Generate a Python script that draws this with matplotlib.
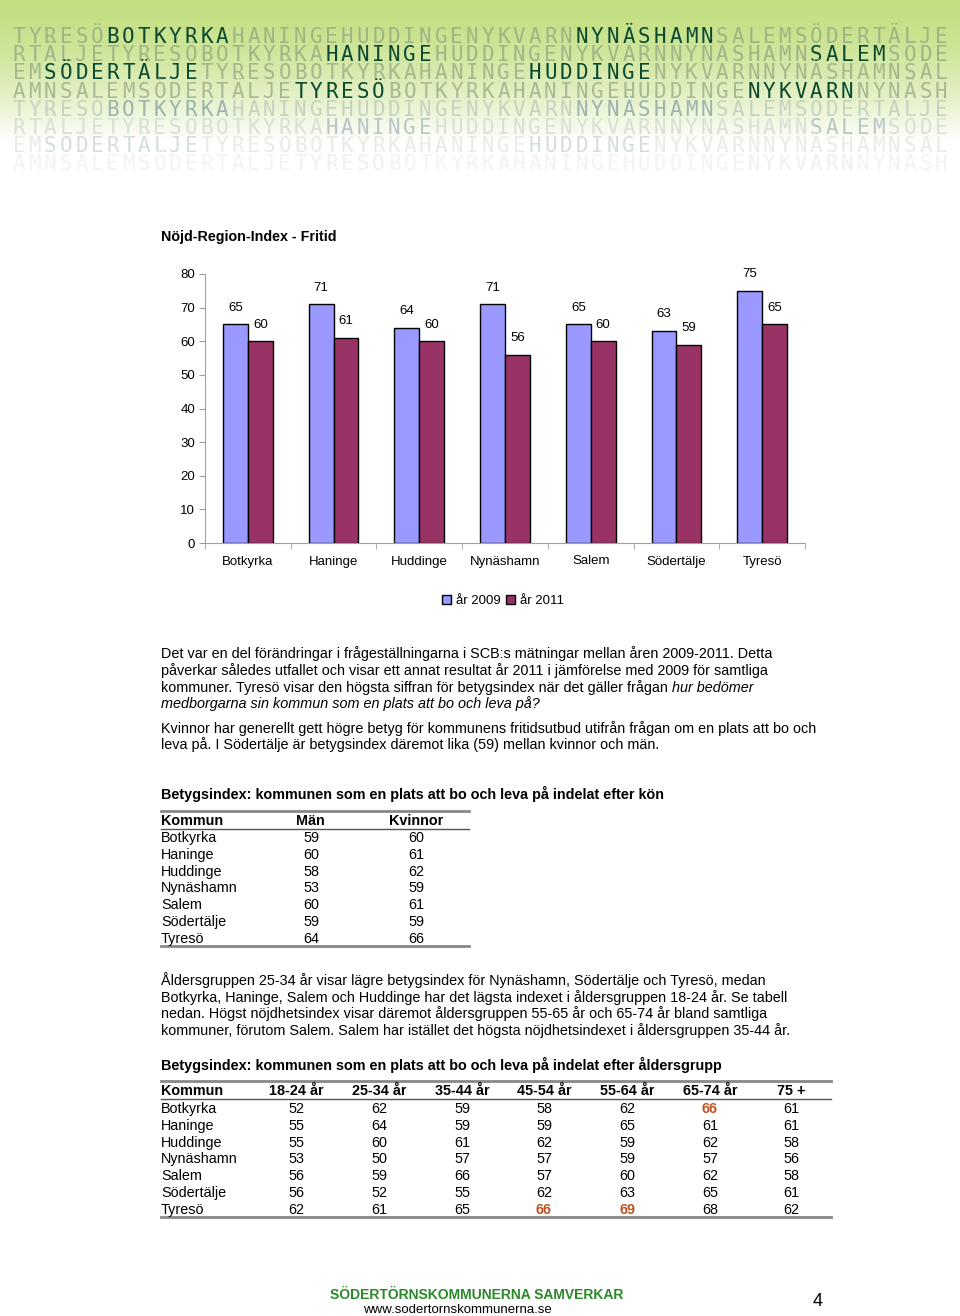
import numpy as np
import matplotlib
matplotlib.use("Agg")
import matplotlib.pyplot as plt
from matplotlib.lines import Line2D
from matplotlib.colors import to_rgb

plt.rcParams['font.family'] = ['Liberation Sans', 'DejaVu Sans']

# --- data ---
kommuner = ['Botkyrka', 'Haninge', 'Huddinge', 'Nynäshamn', 'Salem', 'Södertälje', 'Tyresö']
ar2009 = [65, 71, 64, 71, 65, 63, 75]
ar2011 = [60, 61, 60, 56, 60, 59, 65]

man = [59, 60, 58, 53, 60, 59, 64]
kvinnor = [60, 61, 62, 59, 61, 59, 66]

aldersgrupper = ['18-24 år', '25-34 år', '35-44 år', '45-54 år', '55-64 år', '65-74 år', '75 +']
alder_varden = [
    [52, 62, 59, 58, 62, 66, 61],
    [55, 64, 59, 59, 65, 61, 61],
    [55, 60, 61, 62, 59, 62, 58],
    [53, 50, 57, 57, 59, 57, 56],
    [56, 59, 66, 57, 60, 62, 58],
    [56, 52, 55, 62, 63, 65, 61],
    [62, 61, 65, 66, 69, 68, 62],
]
markerade = [(0, 5), (6, 3), (6, 4)]  # (rad, kolumn) i orange

W, H = 960, 1316
FS = 10.35  # body text size
fig = plt.figure(figsize=(W / 100, H / 100), dpi=100)


def X(px):
    return px / W


def Y(py):
    return 1 - py / H


# --- header with green gradient and name letters ---
hax = fig.add_axes([0, Y(182), 1, 182 / H])
hax.set_xlim(0, W)
hax.set_ylim(182, 0)
hax.axis('off')
top = np.array(to_rgb('#c2df80'))
t = np.linspace(0, 1, 182)
fade = np.clip(t / 0.78, 0, 1) ** 1.5
grad = top[None, :] * (1 - fade[:, None]) + np.ones(3)[None, :] * fade[:, None]
hax.imshow(grad[:, None, :], aspect='auto', extent=(0, W, 182, 0))

rader = [
    "TYRESÖBOTKYRKAHANINGEHUDDINGENYKVARNNYNÄSHAMNSALEMSÖDERTÄLJE",
    "RTÄLJETYRESÖBOTKYRKAHANINGEHUDDINGENYKVARNNYNÄSHAMNSALEMSÖDE",
    "EMSÖDERTÄLJETYRESÖBOTKYRKAHANINGEHUDDINGENYKVARNNYNÄSHAMNSAL",
    "AMNSALEMSÖDERTÄLJETYRESÖBOTKYRKAHANINGEHUDDINGENYKVARNNYNÄSH",
]
hl = [[(6, 8), (36, 9)], [(20, 7), (51, 5)], [(2, 10), (33, 8)], [(18, 6), (47, 7)]]
base_col = ['#9fb485', '#a0b587', '#a4b88c', '#a8ba92',
            '#c8d2c0', '#d9e0d4', '#e8ece6', '#f3f4f2']
hl_col = ['#0b4a30', '#0b4a30', '#0b4a30', '#0b4a30',
          '#9db3b0', '#b8c6c8', '#d5dde0', '#eef0f1']
for r in range(8):
    txt = rader[r % 4]
    yy = 37 + r * 18.2
    marks = set()
    for s, n in hl[r % 4]:
        marks.update(range(s, s + n))
    for i, ch in enumerate(txt):
        c = hl_col[r] if i in marks else base_col[r]
        hax.text(12 + i * 15.63 + 7, yy, ch, ha='center', va='center',
                 family='DejaVu Sans Mono', fontsize=15, color=c)

# --- bar chart ---
fig.text(X(161), Y(241), 'Nöjd-Region-Index - Fritid', fontsize=10.3,
         fontweight='bold', va='baseline')

ax = fig.add_axes([X(205), Y(543), X(805) - X(205), (543 - 274) / H])
x = np.arange(len(kommuner))
w = 0.29
b1 = ax.bar(x - w / 2, ar2009, w, color='#9999ff', edgecolor='black', lw=1, label='år 2009')
b2 = ax.bar(x + w / 2, ar2011, w, color='#993366', edgecolor='black', lw=1, label='år 2011')
for xs, vals in ((x - w / 2, ar2009), (x + w / 2, ar2011)):
    for xi, v in zip(xs, vals):
        ax.annotate(str(v), (xi, v), xytext=(0, 12), textcoords='offset points',
                    ha='center', va='center', fontsize=9.5)
ax.set_xlim(-0.5, len(kommuner) - 0.5)
ax.set_ylim(0, 80)
ax.set_yticks(range(0, 81, 10))
ax.set_xticks(x)
ax.set_xticklabels(kommuner)
ax.set_xticks(np.arange(-0.5, len(kommuner)), minor=True)
ax.tick_params(axis='x', which='major', length=0, pad=9, labelsize=9.5)
ax.tick_params(axis='x', which='minor', length=4, color='#a0a0a0')
ax.tick_params(axis='y', length=4, color='#a0a0a0', pad=3, labelsize=9.5)
for s in ('top', 'right'):
    ax.spines[s].set_visible(False)
for s in ('left', 'bottom'):
    ax.spines[s].set_color('#a0a0a0')
ax.set_facecolor('none')

fig.legend(handles=[b1, b2], loc='center', bbox_to_anchor=(X(503), Y(601)),
           ncol=2, frameon=False, fontsize=9.5, handlelength=0.7, handleheight=0.7,
           columnspacing=0.4, handletextpad=0.35)


# --- text blocks ---
def line(px, py, s, **kw):
    kw.setdefault('fontsize', FS)
    return fig.text(X(px), Y(py), s, va='baseline', **kw)


line(161, 658, 'Det var en del förändringar i frågeställningarna i SCB:s mätningar mellan åren 2009-2011. Detta')
line(161, 675, 'påverkar således utfallet och visar ett annat resultat år 2011 i jämförelse med 2009 för samtliga')
t1 = line(161, 692, 'kommuner. Tyresö visar den högsta siffran för betygsindex när det gäller frågan ')
fig.canvas.draw()
bb = t1.get_window_extent()
fig.text(bb.x1 / W, Y(692), 'hur bedömer', va='baseline', fontsize=FS, style='italic')
line(161, 708, 'medborgarna sin kommun som en plats att bo och leva på?', style='italic')
line(161, 733, 'Kvinnor har generellt gett högre betyg för kommunens fritidsutbud utifrån frågan om en plats att bo och')
line(161, 749, 'leva på. I Södertälje är betygsindex däremot lika (59) mellan kvinnor och män.')


def hline(x0, x1, py, lw, c):
    fig.add_artist(Line2D([X(x0), X(x1)], [Y(py), Y(py)], transform=fig.transFigure,
                          color=c, lw=lw))


# --- table 1: kön ---
line(161, 799, 'Betygsindex: kommunen som en plats att bo och leva på indelat efter kön',
     fontweight='bold')
hline(161, 469, 811, 2, '#888888')
line(161, 825, 'Kommun', fontweight='bold')
fig.text(X(310), Y(825), 'Män', ha='center', va='baseline', fontsize=FS, fontweight='bold')
fig.text(X(416), Y(825), 'Kvinnor', ha='center', va='baseline', fontsize=FS, fontweight='bold')
hline(161, 469, 829, 1, '#555555')
for i, k in enumerate(kommuner):
    py = 842 + i * 16.8
    line(161, py, k)
    fig.text(X(311), Y(py), str(man[i]), ha='center', va='baseline', fontsize=FS)
    fig.text(X(416), Y(py), str(kvinnor[i]), ha='center', va='baseline', fontsize=FS)
hline(161, 469, 946, 2, '#888888')

line(161, 985, 'Åldersgruppen 25-34 år visar lägre betygsindex för Nynäshamn, Södertälje och Tyresö, medan')
line(161, 1002, 'Botkyrka, Haninge, Salem och Huddinge har det lägsta indexet i åldersgruppen 18-24 år. Se tabell')
line(161, 1018, 'nedan. Högst nöjdhetsindex visar däremot åldersgruppen 55-65 år och 65-74 år bland samtliga')
line(161, 1035, 'kommuner, förutom Salem. Salem har istället det högsta nöjdhetsindexet i åldersgruppen 35-44 år.')

# --- table 2: åldersgrupp ---
line(161, 1070, 'Betygsindex: kommunen som en plats att bo och leva på indelat efter åldersgrupp',
     fontweight='bold')
hline(161, 831, 1081, 2, '#888888')
colx = [296, 379, 462, 544, 627, 710, 791]
line(161, 1095, 'Kommun', fontweight='bold')
for cx, g in zip(colx, aldersgrupper):
    fig.text(X(cx), Y(1095), g, ha='center', va='baseline', fontsize=FS, fontweight='bold')
hline(161, 831, 1099, 1, '#555555')
for i, k in enumerate(kommuner):
    py = 1113 + i * 16.8
    line(161, py, k)
    for j, cx in enumerate(colx):
        hot = (i, j) in markerade
        fig.text(X(cx), Y(py), str(alder_varden[i][j]), ha='center', va='baseline',
                 fontsize=FS, color='#c0501e' if hot else 'black',
                 fontweight='bold' if hot else 'normal')
hline(161, 831, 1217, 2, '#888888')

# --- footer ---
fig.text(X(477), Y(1299), 'SÖDERTÖRNSKOMMUNERNA SAMVERKAR', ha='center', va='baseline',
         fontsize=10, fontweight='bold', color='#2a8a2a')
fig.text(X(457), Y(1313), 'www.sodertornskommunerna.se', ha='center', va='baseline', fontsize=9.5)
fig.text(X(818), Y(1306), '4', ha='center', va='baseline', fontsize=13)

fig.savefig('out.png', dpi=100)
